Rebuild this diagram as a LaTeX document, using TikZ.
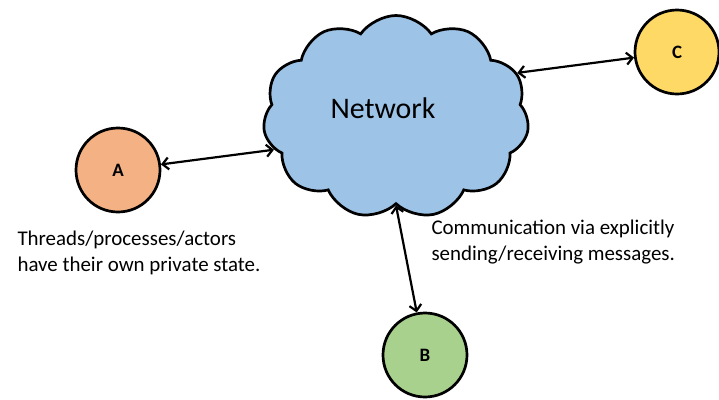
\documentclass[tikz,border=0pt]{standalone}
\usepackage{fontspec}
\setmainfont{Carlito}
\usetikzlibrary{shapes.symbols,arrows.meta}
\definecolor{cloudblue}{RGB}{157,195,230}
\definecolor{nodeorange}{RGB}{244,177,131}
\definecolor{nodegreen}{RGB}{169,209,142}
\definecolor{nodeyellow}{RGB}{255,217,102}

\begin{document}
\begin{tikzpicture}[x=1bp,y=-1bp,
  proc/.style={circle,draw,line width=2.7bp,minimum size=84bp,inner sep=0pt,font=\fontsize{19}{22}\selectfont\bfseries},
  link/.style={{Straight Barb[length=6bp,width=12bp]}-{Straight Barb[length=6bp,width=12bp]},line width=2.2bp}]
\useasboundingbox (0,0) rectangle (719,399);
% Draw the network cloud
\node[cloud,cloud puffs=11,cloud puff arc=110,aspect=1.3,draw,line width=2.7bp,fill=cloudblue,
  minimum width=266bp,minimum height=203bp,inner sep=0pt] (net) at (396,117) {};
\node[font=\fontsize{30}{34}\selectfont] (nettext) at (383,108) {Network};
% Draw the processes
\node[proc,fill=nodeorange] (A) at (118,170) {A};
\node[proc,fill=nodegreen] (B) at (425,355) {B};
\node[proc,fill=nodeyellow] (C) at (677,52) {C};
% Arrows
\draw[link] (A) -- (net.195);
\draw[link] (net.20) -- (C);
\draw[link] (net.270) -- (B);
% Labels
\node[anchor=west,align=left,font=\fontsize{21}{26}\selectfont] (statetext) at (14,253) {Threads/processes/actors\\have their own private state.};
\node[anchor=west,align=left,font=\fontsize{21}{27}\selectfont] (msgtext) at (428,242) {Communication via explicitly\\sending/receiving messages.};
\end{tikzpicture}
\end{document}
